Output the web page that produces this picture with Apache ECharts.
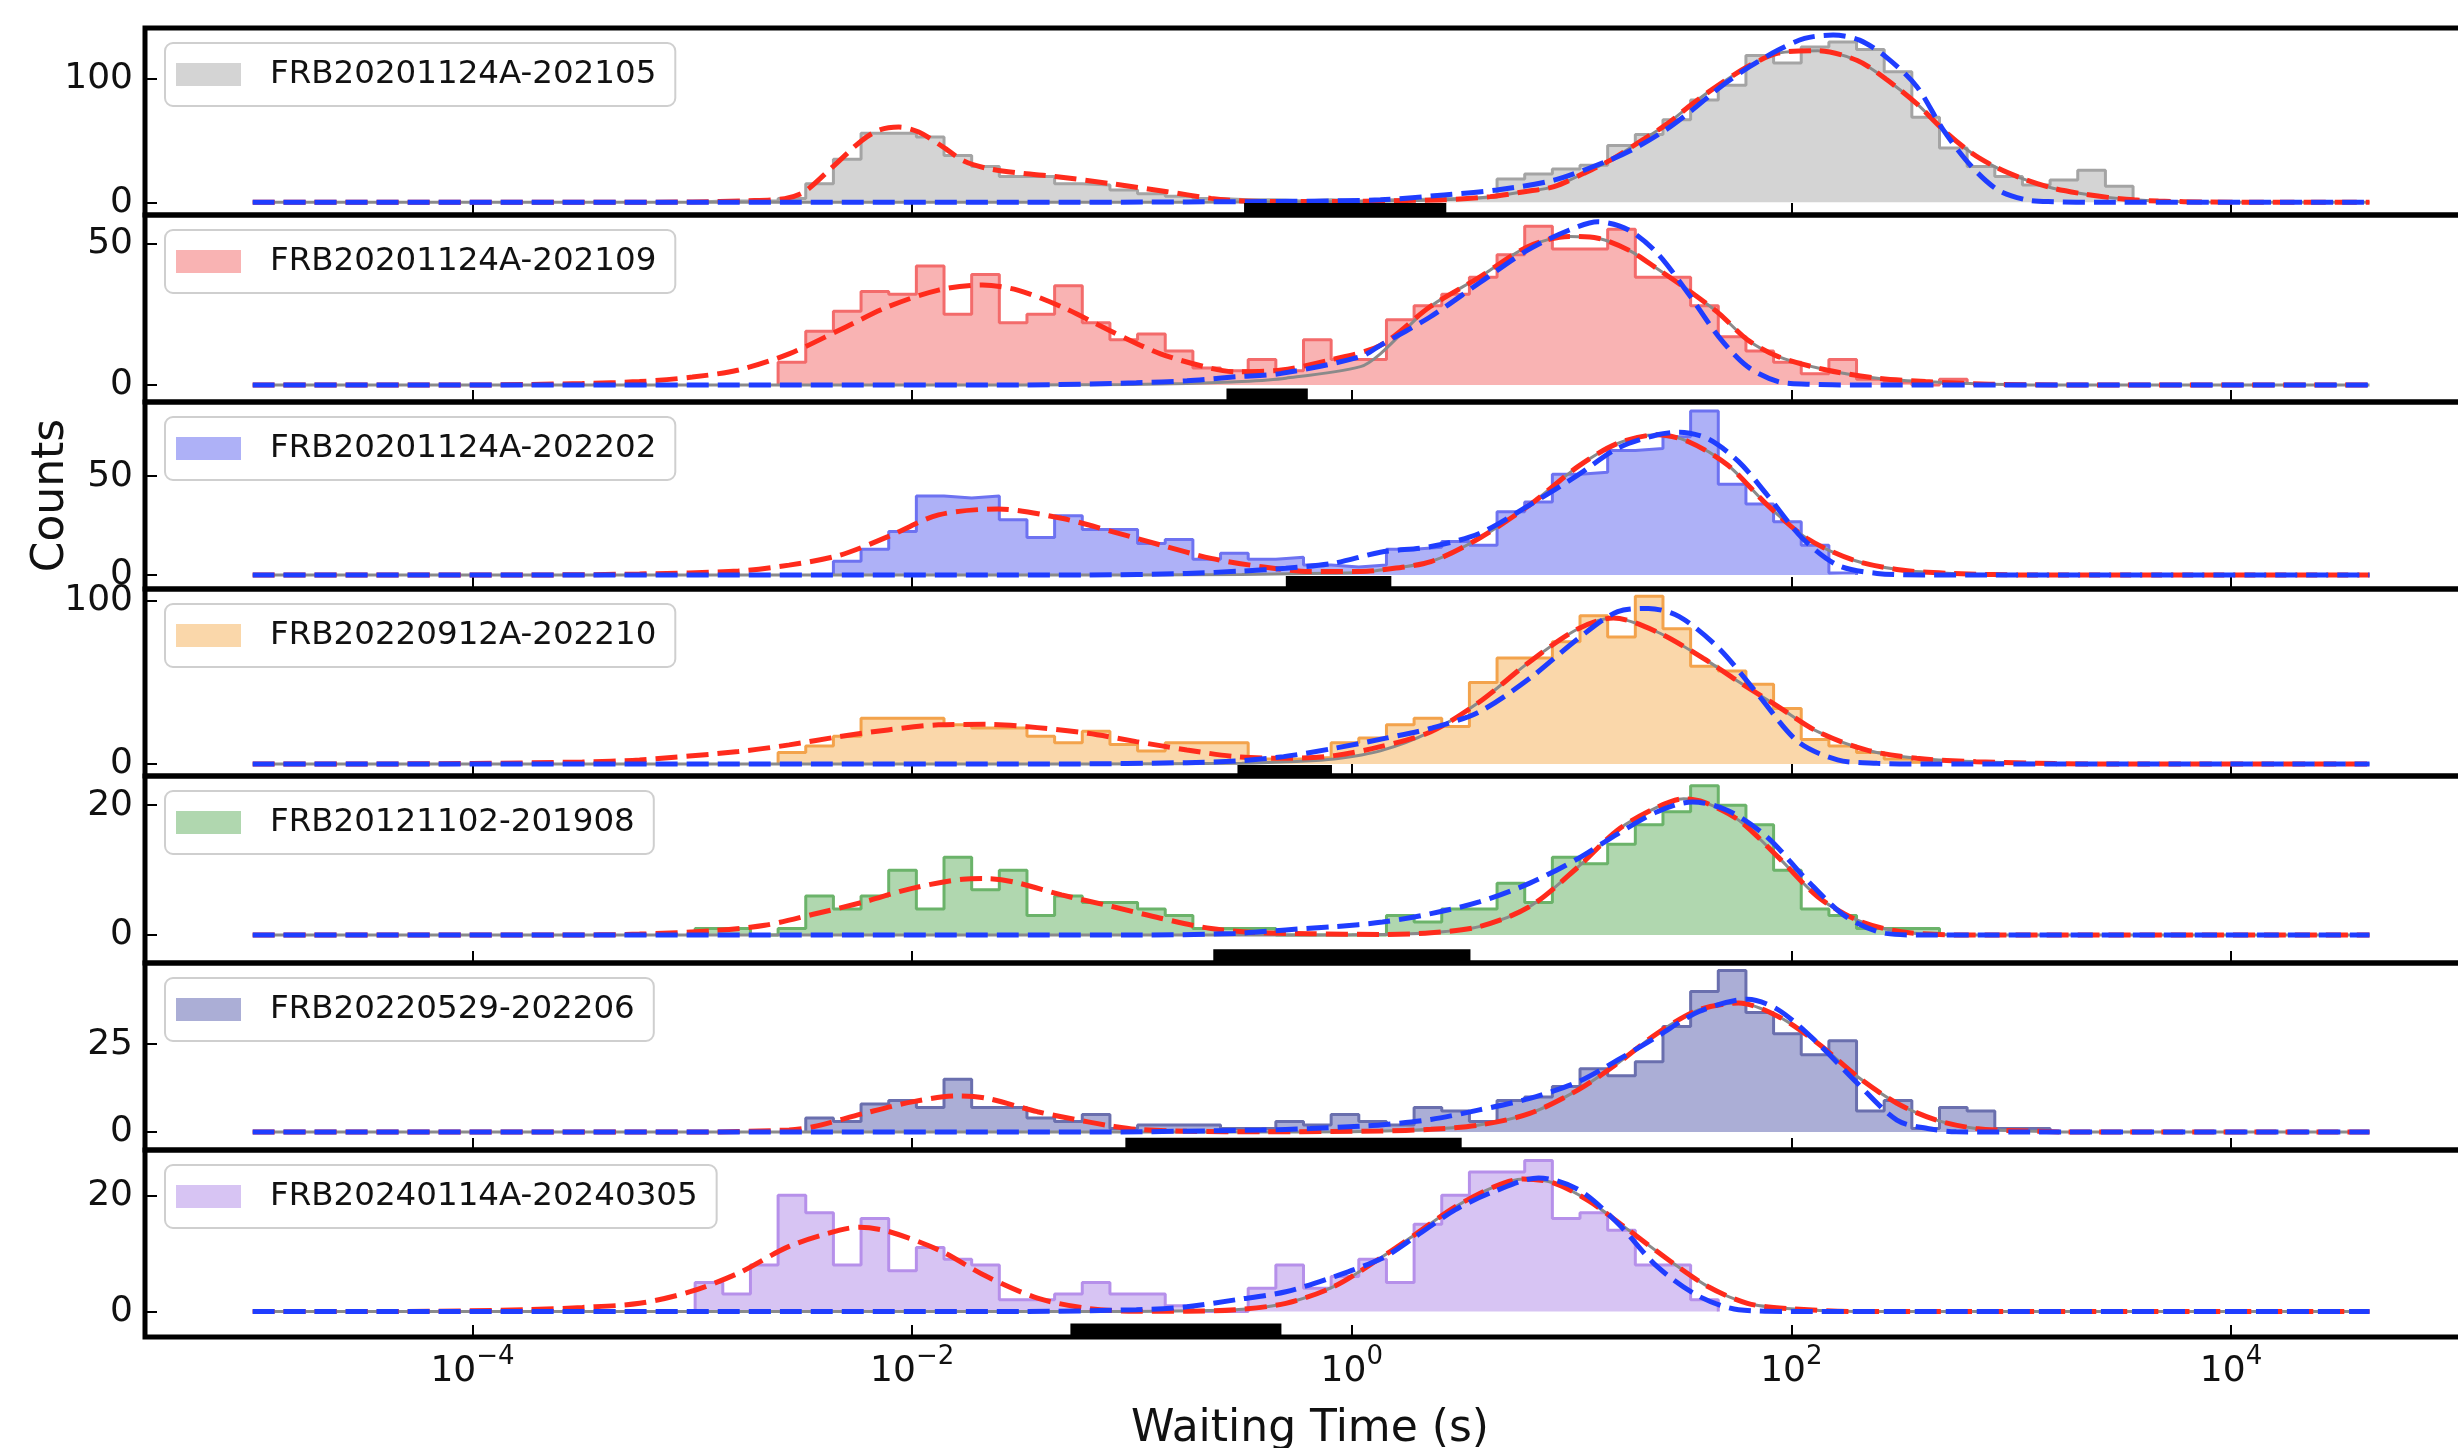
<!DOCTYPE html>
<html>
<head>
<meta charset="utf-8">
<script src="https://cdn.jsdelivr.net/npm/echarts@6/dist/echarts.min.js"></script>
<style>
  html, body { margin: 0; padding: 0; background: #fff; }
  #chart { width: 2458px; height: 1448px; }
</style>
</head>
<body>
<div id="chart"></div>
<script>
// Waiting-time distributions of repeating FRBs; x values are log10(seconds).
const FONT = 'DejaVu Sans';

const NAMES = [
  'FRB20201124A-202105', 'FRB20201124A-202109', 'FRB20201124A-202202',
  'FRB20220912A-202210', 'FRB20121102-201908', 'FRB20220529-202206',
  'FRB20240114A-20240305'
];

// Histogram bins: edges at BIN_START + k * BIN_WIDTH (dex)
const BIN_START = -5;
const BIN_WIDTH = 0.1258;
// index k of the first bin listed in each counts array
const FIRST_BIN = [16, 19, 21, 19, 16, 20, 16];

const COUNTS_A = [1,1,1,3,15,35,56,56,53,38, 29,21,21,15,14,10,7,5,3,2, 2,1,2,1,2,2,3,3,4,19,
                  23,27,30,46,55,67,83,95,119,113, 126,130,124,106,69,44,29,21,14,18, 26,13];
const COUNTS_B = [8,19,26,33,32,42,25,39,22,25, 35,22,16,18,12,6,5,9,5,16, 9,9,23,28,32,38,46,56,48,48,
                  55,38,38,28,17,12,8,4,9,2, 1,0,2];
const COUNTS_C = [7,13,22,40,39,40,28,19,30,23, 23,16,18,8,11,8,9,5,4,5, 13,14,17,15,32,37,51,52,63,64,
                  70,83,46,36,27,15,1];
const COUNTS_D = [7,11,17,28,28,28,24,22,22,17, 13,20,12,8,13,13,13,3,3,4, 13,16,24,28,23,50,65,65,75,91,
                  78,103,83,60,57,49,34,15,11,7, 3,1];
const COUNTS_E = [1,1,0,1,6,4,6,10,4,12, 7,10,3,6,5,5,4,3,1,1, 1,0,0,0,0,3,2,4,4,8,
                  5,12,11,14,17,19,23,20,17,10, 4,3,1,1,1];
const COUNTS_F = [4,3,8,9,7,15,7,7,4,3, 5,1,2,2,2,1,1,3,2,5, 3,2,7,6,3,9,10,13,18,16,
                  20,30,40,46,34,28,22,26,6,9, 1,7,6,1,1];
const COUNTS_G = [5,3,8,20,17,8,16,7,11,9, 8,2,2,3,5,3,3,1,0,0, 4,8,4,6,9,5,15,20,24,24,
                  26,16,17,14,8,8,2];

// Two-component fit (red) as [log10 t, counts]
const RED_A = [[-3.5,0],[-3.0,0.3],[-2.75,1.2],[-2.58,3],[-2.49,8.6],[-2.36,29],[-2.23,50],[-2.15,58.6],[-2.06,61],
  [-1.97,57],[-1.86,45],[-1.77,34],[-1.66,27.6],[-1.5,23.5],[-1.35,21],[-1.09,15],[-0.84,8.6],[-0.64,3.2],[-0.49,1],
  [-0.25,0.6],[0,0.8],[0.25,1.5],[0.42,2],[0.63,4.6],[0.785,8.6],[0.92,12.7],[1.056,23.5],[1.175,34],[1.30,48],[1.43,63],
  [1.55,80],[1.68,96.5],[1.81,111],[1.94,121],[2.12,123],[2.30,115],[2.43,100],[2.57,80],[2.69,59],[2.82,40],[2.94,27.6],
  [3.07,18],[3.19,11.4],[3.31,7.3],[3.44,4],[3.56,2],[3.67,1],[3.9,0.2],[4.2,0]];
const RED_B = [[-4.0,0],[-3.75,0.2],[-3.5,0.5],[-3.24,1.2],[-3.0,2.8],[-2.79,5.3],[-2.56,11],[-2.33,19.4],[-2.11,27.6],
  [-1.88,33.5],[-1.68,35.3],[-1.52,33.5],[-1.32,27.6],[-1.09,18.8],[-0.87,11],[-0.64,5.9],[-0.53,4.7],[-0.32,5.3],
  [-0.10,8.8],[0.13,14],[0.356,27.6],[0.58,38],[0.8,48.8],[0.99,52.4],[1.12,51.8],[1.26,47.6],[1.39,41],[1.53,33.5],
  [1.67,25.3],[1.8,16],[1.94,10],[2.16,5.3],[2.39,2.4],[2.61,1.2],[2.9,0.3],[3.3,0]];
const RED_C = [[-3.75,0],[-3.24,0.5],[-2.79,2],[-2.56,5],[-2.33,10],[-2.11,19.4],[-1.88,30.4],[-1.61,33.4],[-1.32,28.7],
  [-1.09,22],[-0.87,15.2],[-0.64,8.4],[-0.41,4.2],[-0.19,1.7],[0.04,1.7],[0.13,2.5],[0.36,6.8],[0.58,18.6],[0.81,35.5],
  [1.03,55],[1.21,66.7],[1.39,71],[1.53,67.6],[1.71,55.7],[1.89,35.5],[2.07,18.6],[2.28,7.6],[2.5,2.5],[2.73,0.8],[3.1,0]];
const RED_D = [[-4.5,0],[-4.0,0.3],[-3.5,1.2],[-3.24,2.5],[-2.79,7.6],[-2.56,11.7],[-2.33,16.8],[-2.11,20.9],[-1.88,24],
  [-1.66,24.3],[-1.43,22.3],[-1.2,18.8],[-0.98,13.7],[-0.75,8.6],[-0.53,4.5],[-0.31,3.5],[-0.08,5.1],[0.13,10.6],
  [0.36,19.8],[0.58,38],[0.81,62.8],[1.03,83],[1.19,89.6],[1.39,81],[1.6,64.8],[1.76,50.5],[1.94,35.2],[2.12,19.8],
  [2.34,8.6],[2.57,3.5],[2.84,1.4],[3.2,0.2],[3.5,0]];
const RED_E = [[-3.6,0],[-3.24,0.15],[-2.9,0.7],[-2.67,1.5],[-2.45,3.2],[-2.22,5.1],[-2.0,7.2],[-1.77,8.6],[-1.66,8.7],
  [-1.54,8.2],[-1.32,6.2],[-1.09,4.4],[-0.87,2.6],[-0.64,1],[-0.41,0.36],[-0.19,0.2],[0.13,0.1],[0.36,0.36],[0.58,1.3],
  [0.81,4.4],[1.03,10.5],[1.21,16.2],[1.39,19.7],[1.51,21],[1.6,20.5],[1.76,17.7],[1.94,12],[2.12,5.9],[2.3,2.3],
  [2.5,0.5],[2.8,0]];
const RED_F = [[-3.0,0],[-2.56,0.6],[-2.45,1.5],[-2.22,5.3],[-2.0,8.6],[-1.79,10.3],[-1.66,9.6],[-1.43,5.8],[-1.2,2.9],
  [-1.09,1.7],[-0.98,0.8],[-0.75,0.2],[-0.4,0.1],[0.13,0.3],[0.36,0.8],[0.58,2],[0.81,5.3],[1.03,12],[1.21,19.6],
  [1.39,28.1],[1.58,34.8],[1.76,36.7],[1.94,32.9],[2.12,25.3],[2.3,15.8],[2.48,8.2],[2.66,3.4],[2.84,1],[3.02,0.4],[3.3,0]];
const RED_G = [[-4.3,0],[-3.75,0.3],[-3.5,0.7],[-3.24,1.4],[-3.01,3.4],[-2.79,6.6],[-2.56,11.2],[-2.33,14],[-2.24,14.5],
  [-2.11,13.8],[-1.88,10.6],[-1.66,6],[-1.43,2.3],[-1.2,0.5],[-0.98,0.05],[-0.75,0.05],[-0.53,0.3],[-0.30,1.4],
  [-0.08,4.3],[0.13,9.2],[0.29,13.3],[0.47,18],[0.65,21.5],[0.78,22.8],[0.92,22.1],[1.08,19],[1.26,14],[1.44,8.9],
  [1.62,4.3],[1.8,1.4],[1.98,0.5],[2.3,0]];

// Alternative fit (blue)
const BLUE_A = [[-1.5,0],[-0.75,0.3],[-0.3,0.8],[0.13,2],[0.42,6],[0.66,10],[0.92,18],[1.17,34],[1.30,45],[1.43,59],
  [1.55,75],[1.68,94],[1.81,110],[1.94,123.5],[2.06,133],[2.19,135.7],[2.31,131.6],[2.43,118],[2.57,94],[2.69,59],
  [2.82,29],[2.94,10],[3.07,2],[3.19,0.5],[3.4,0]];
const BLUE_B = [[-1.5,0],[-0.98,0.8],[-0.75,1.5],[-0.53,2.9],[-0.32,4.1],[0.04,10],[0.13,14],[0.356,24],[0.58,36],
  [0.8,47.6],[0.99,54.7],[1.12,57.6],[1.26,54.7],[1.39,46.5],[1.53,32.4],[1.67,17],[1.8,6.5],[1.94,1.2],[2.07,0.3],[2.3,0]];
const BLUE_C = [[-1.2,0],[-0.75,0.8],[-0.5,2],[-0.30,3.4],[-0.08,6],[0.13,11.5],[0.36,14.4],[0.58,21],[0.81,35.5],
  [1.03,50.7],[1.21,64.2],[1.39,71],[1.49,72.3],[1.62,69],[1.76,57.4],[1.89,40.5],[2.05,18.6],[2.21,5],[2.39,0.8],[2.6,0]];
const BLUE_D = [[-1.3,0],[-0.75,0.8],[-0.53,1.8],[-0.31,4.5],[-0.08,9.6],[0.15,15.7],[0.36,21.9],[0.58,32],[0.81,52.6],
  [1.03,77],[1.21,93.5],[1.35,95.5],[1.49,90.4],[1.67,71],[1.85,42.3],[2.03,13.7],[2.21,2.5],[2.39,0.4],[2.6,0]];
const BLUE_E = [[-1.0,0],[-0.53,0.26],[-0.30,0.8],[-0.08,1.3],[0.14,2],[0.36,3.3],[0.58,5.1],[0.81,8],[1.03,11.8],
  [1.21,15.6],[1.39,19],[1.55,20.5],[1.71,19.2],[1.89,15.1],[2.07,8.5],[2.25,2.8],[2.43,0.26],[2.6,0]];
const BLUE_F = [[-1.2,0],[-0.41,0.6],[-0.19,1],[0.04,1.7],[0.13,2],[0.36,3.6],[0.58,6.3],[0.81,9.6],[1.03,14.3],
  [1.21,20.5],[1.39,27.2],[1.58,34.3],[1.8,37.8],[1.94,34.8],[2.12,25.3],[2.3,13.9],[2.48,3.4],[2.62,1],[2.75,0.1],[3.0,0]];
const BLUE_G = [[-1.5,0],[-0.98,0.3],[-0.75,0.8],[-0.53,2],[-0.30,3.4],[-0.08,6],[0.14,9.2],[0.29,12.9],[0.47,17.5],
  [0.65,20.7],[0.85,23],[1.03,21],[1.21,15.2],[1.39,7.7],[1.58,2.6],[1.76,0.3],[2.0,0]];

// Long-waiting-time component alone (grey): its own low tail, then it follows the red fit from GRAY_JOIN on
const GRAY_TAIL_A = [[-1.0,0],[-0.5,0.2],[0,0.6],[0.25,1.4],[0.42,2]];
const GRAY_TAIL_B = [[-1.5,0],[-1.0,0.2],[-0.75,0.5],[-0.5,1.2],[-0.3,2.4],[0.04,6.5],[0.13,11]];
const GRAY_TAIL_C = [[-1.0,0],[-0.5,0.3],[-0.2,0.8],[0.04,1.3]];
const GRAY_TAIL_D = [[-1.2,0],[-0.5,0.5],[-0.25,1.5],[-0.08,3],[0.13,8]];
const GRAY_TAIL_E = [[-0.5,0],[0.0,0.05]];
const GRAY_TAIL_F = [[-0.5,0],[0.0,0.1]];
const GRAY_TAIL_G = [[-1.2,0]];
const GRAY_JOIN = [0.6, 0.3, 0.1, 0.3, 0.1, 0.1, -0.6];

// Separation range marked under each histogram
const BAR_FROM = [-0.49, -0.57, -0.30, -0.52, -0.63, -1.03, -1.28];
const BAR_TO   = [ 0.43, -0.20,  0.18, -0.09,  0.54,  0.50, -0.32];
const BAR_Y    = [-5.4, -3.35, -3.5, -4.3, -3.1, -3.3, -3.1];

// Axis ranges and labelled y ticks
const X_MIN = -5.49, X_MAX = 5.11;
const X_TICKS = [-4, -2, 0, 2, 4];
const CURVE_FROM = -5, CURVE_TO = 4.63;
const Y_MIN = [-10.3, -6.0, -7.1, -7.4, -4.3, -5.1, -4.4];
const Y_MAX = [141.4, 60.0, 87.6, 107.4, 24.5, 48.1, 27.8];
const Y_TICK = [100, 50, 50, 100, 20, 25, 20];

const COUNTS = [COUNTS_A, COUNTS_B, COUNTS_C, COUNTS_D, COUNTS_E, COUNTS_F, COUNTS_G];
const RED = [RED_A, RED_B, RED_C, RED_D, RED_E, RED_F, RED_G];
const BLUE = [BLUE_A, BLUE_B, BLUE_C, BLUE_D, BLUE_E, BLUE_F, BLUE_G];
const GRAY_TAIL = [GRAY_TAIL_A, GRAY_TAIL_B, GRAY_TAIL_C, GRAY_TAIL_D, GRAY_TAIL_E, GRAY_TAIL_F, GRAY_TAIL_G];

// Styling
const FILL = ['#d4d4d4', '#f9b3b3', '#aeb1f7', '#fad7aa', '#b0d7af', '#abaed6', '#d7c4f3'];
const EDGE = ['#a4a4a4', '#f36b6b', '#6d72f1', '#f3a34c', '#6bb36a', '#6a6fae', '#b690ea'];
const RED_COLOR = '#ff2b1c';
const BLUE_COLOR = '#1f3dff';
const GRAY_COLOR = '#8a8a8a';
const DASH = [22, 9];
// the plot frame runs slightly past the right edge of the page
const GRID_LEFT = 145, GRID_RIGHT = -17, GRID_TOP = 28, GRID_H = 187;

function histPoints(first, counts) {
  const pts = [[BIN_START + first * BIN_WIDTH, 0]];
  counts.forEach((c, j) => pts.push([BIN_START + (first + j) * BIN_WIDTH, c]));
  const end = BIN_START + (first + counts.length) * BIN_WIDTH;
  pts.push([end, counts[counts.length - 1]]);
  pts.push([end, 0]);
  return pts;
}
function curvePoints(knots) {
  return [[CURVE_FROM, 0]].concat(knots, [[CURVE_TO, 0]]);
}
function supLabel(v) {
  const p = v < 0 ? '\u2212' + (-v) : String(v);
  return '{b|10}{s|' + p + '}';
}

const grids = [], xAxes = [], yAxes = [], series = [], legends = [];
for (let i = 0; i < 7; i++) {
  const top = GRID_TOP + i * GRID_H;
  grids.push({
    left: GRID_LEFT, right: GRID_RIGHT, top: top, height: GRID_H,
    outerBoundsMode: 'none', containLabel: false,
    show: true, borderColor: '#000', borderWidth: 5, backgroundColor: 'transparent'
  });
  const last = i === 6;
  xAxes.push({
    type: 'value', gridIndex: i, min: X_MIN, max: X_MAX, position: 'bottom',
    axisLine: { show: false, onZero: false }, splitLine: { show: false },
    axisTick: { show: true, inside: true, length: 12, customValues: X_TICKS,
                lineStyle: { color: '#000', width: 2 } },
    axisLabel: {
      show: last, customValues: X_TICKS, margin: 7, formatter: supLabel,
      rich: {
        b: { fontFamily: FONT, fontSize: 36, color: '#111', lineHeight: 46, verticalAlign: 'bottom' },
        s: { fontFamily: FONT, fontSize: 26, color: '#111', lineHeight: 26, verticalAlign: 'top' }
      }
    },
    name: last ? 'Waiting Time (s)' : '',
    nameLocation: 'middle', nameGap: 71,
    nameTextStyle: { fontFamily: FONT, fontSize: 44, color: '#111' }
  });
  yAxes.push({
    type: 'value', gridIndex: i, min: Y_MIN[i], max: Y_MAX[i], position: 'left',
    axisLine: { show: false, onZero: false }, splitLine: { show: false },
    axisTick: { show: true, inside: true, length: 12, customValues: [0, Y_TICK[i]],
                lineStyle: { color: '#000', width: 2 } },
    axisLabel: { customValues: [0, Y_TICK[i]], margin: 12, fontFamily: FONT, fontSize: 36, color: '#111' },
    name: i === 2 ? 'Counts' : '',
    nameLocation: 'middle', nameGap: 71,
    nameTextStyle: { fontFamily: FONT, fontSize: 44, color: '#111' }
  });

  series.push({
    name: NAMES[i], type: 'line', xAxisIndex: i, yAxisIndex: i,
    data: histPoints(FIRST_BIN[i], COUNTS[i]), step: 'end', symbol: 'none',
    lineStyle: { color: EDGE[i], width: 3 },
    areaStyle: { color: FILL[i], opacity: 1 },
    itemStyle: { color: FILL[i] },
    silent: true, animation: false, z: 2
  });
  const join = GRAY_JOIN[i];
  const grayKnots = GRAY_TAIL[i].concat(RED[i].filter(p => p[0] >= join));
  series.push({
    type: 'line', xAxisIndex: i, yAxisIndex: i, data: curvePoints(grayKnots),
    smooth: 0.3, symbol: 'none', lineStyle: { color: GRAY_COLOR, width: 3 },
    silent: true, animation: false, z: 3
  });
  series.push({
    type: 'line', xAxisIndex: i, yAxisIndex: i, data: curvePoints(RED[i]),
    smooth: 0.3, symbol: 'none', lineStyle: { color: RED_COLOR, width: 5, type: DASH },
    silent: true, animation: false, z: 4
  });
  series.push({
    type: 'line', xAxisIndex: i, yAxisIndex: i, data: curvePoints(BLUE[i]),
    smooth: 0.3, symbol: 'none', lineStyle: { color: BLUE_COLOR, width: 5, type: DASH },
    silent: true, animation: false, z: 5
  });
  series.push({
    type: 'line', xAxisIndex: i, yAxisIndex: i,
    data: [[BAR_FROM[i], BAR_Y[i]], [BAR_TO[i], BAR_Y[i]]], symbol: 'none',
    lineStyle: { color: '#000', width: 12, cap: 'butt' },
    silent: true, animation: false, z: 6
  });

  legends.push({
    data: [{ name: NAMES[i], itemStyle: { color: FILL[i], borderWidth: 0 } }],
    left: 165, top: top + 15, orient: 'horizontal',
    icon: 'rect', itemWidth: 65, itemHeight: 23, selectedMode: false,
    backgroundColor: 'rgba(255,255,255,0.8)', borderColor: '#cfcfcf', borderWidth: 2, borderRadius: 8,
    padding: [15, 19, 15, 11], z: 10,
    textStyle: { fontFamily: FONT, fontSize: 32.5, color: '#111', padding: [0, 0, 0, 24] }
  });
}

const chart = echarts.init(document.getElementById('chart'), null, { renderer: 'canvas' });
chart.setOption({
  animation: false,
  backgroundColor: '#fff',
  grid: grids, xAxis: xAxes, yAxis: yAxes, legend: legends, series: series
});
</script>
</body>
</html>
